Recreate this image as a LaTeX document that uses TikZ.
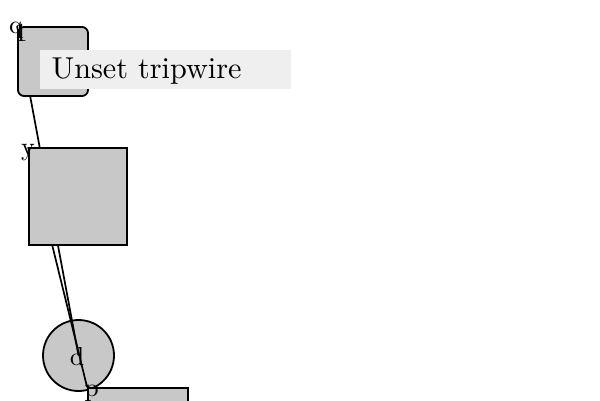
\documentclass[tikz,border=0pt]{standalone}
\definecolor{boxgray}{RGB}{200,200,200}
\definecolor{tagbg}{RGB}{239,239,239}
\pgfdeclarelayer{circlayer}
\pgfdeclarelayer{edgelayer}
\pgfsetlayers{circlayer,edgelayer,main}
\begin{document}
\begin{tikzpicture}[x=1pt,y=-1pt,
  nodebox/.style={draw=black, fill=boxgray, line width=1.8pt, inner sep=0pt},
  tagbox/.style={fill=tagbg, inner sep=0pt, minimum width=251pt, minimum height=39pt},
  lbl/.style={inner sep=0pt, anchor=base, scale=2.6, font=\fontsize{10}{12}\selectfont},
  tagtext/.style={inner sep=0pt, anchor=base west, scale=3.02, font=\fontsize{10}{12}\selectfont},
  edge/.style={line width=1.7pt}]
\useasboundingbox (0,0) rectangle (600,400);
\begin{pgfonlayer}{circlayer}
\node (d) [nodebox, circle, minimum size=71pt] at (78.5,355.5) {};
\end{pgfonlayer}
\node (q) [nodebox, rounded corners=6pt, minimum width=70pt, minimum height=69pt] at (53,61.5) {};
\node (y) [nodebox, minimum width=98pt, minimum height=97pt] at (78,196.5) {};
\node (p) [nodebox, minimum width=100pt, minimum height=40pt] at (138,408) {};
\begin{pgfonlayer}{edgelayer}
\draw[edge] (q.north west) -- (d.center);
\draw[edge] (y.north west) -- (p.north west);
\end{pgfonlayer}
\node (tag) [tagbox] at (165.5,69.5) {};
\node (tagt) [tagtext] at (51,78.3) {Unset tripwire};
\node (lq) [lbl] at (16,33.5) {q};
\node (l1) [lbl] at (21,41) {1};
\node (ly) [lbl] at (28,155.5) {y};
\node (ld) [lbl] at (77,365) {d};
\node (lp) [lbl] at (91.7,396.5) {p};
\end{tikzpicture}
\end{document}
